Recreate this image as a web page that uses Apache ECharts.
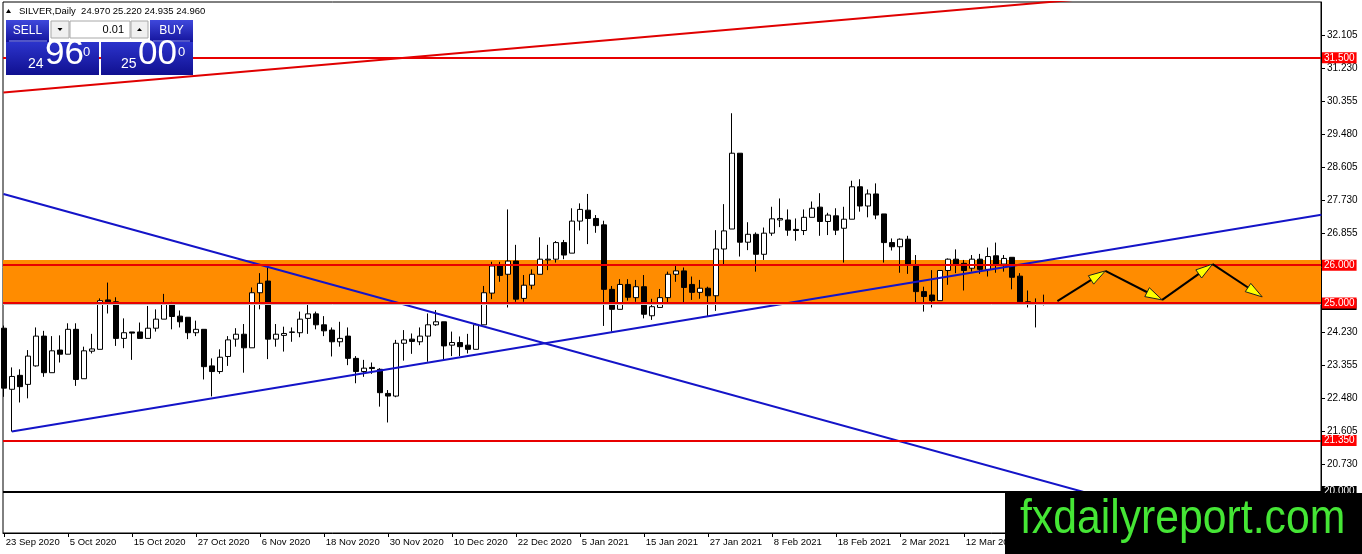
<!DOCTYPE html>
<html><head><meta charset="utf-8">
<script src="https://cdn.jsdelivr.net/npm/echarts@6/dist/echarts.min.js"></script>
<style>html,body{margin:0;padding:0;background:#fff}#c{width:1362px;height:554px}</style>
</head><body><div id="c"></div>
<script>
const dates = [
'23 Sep 2020','24 Sep 2020','25 Sep 2020','28 Sep 2020','29 Sep 2020','30 Sep 2020',
'1 Oct 2020','2 Oct 2020','5 Oct 2020','6 Oct 2020','7 Oct 2020','8 Oct 2020','9 Oct 2020','12 Oct 2020','13 Oct 2020','14 Oct 2020','15 Oct 2020','16 Oct 2020','19 Oct 2020','20 Oct 2020','21 Oct 2020','22 Oct 2020','23 Oct 2020','26 Oct 2020','27 Oct 2020','28 Oct 2020','29 Oct 2020','30 Oct 2020',
'2 Nov 2020','3 Nov 2020','4 Nov 2020','5 Nov 2020','6 Nov 2020','9 Nov 2020','10 Nov 2020','11 Nov 2020','12 Nov 2020','13 Nov 2020','16 Nov 2020','17 Nov 2020','18 Nov 2020','19 Nov 2020','20 Nov 2020','23 Nov 2020','24 Nov 2020','25 Nov 2020','26 Nov 2020','27 Nov 2020','30 Nov 2020',
'1 Dec 2020','2 Dec 2020','3 Dec 2020','4 Dec 2020','7 Dec 2020','8 Dec 2020','9 Dec 2020','10 Dec 2020','11 Dec 2020','14 Dec 2020','15 Dec 2020','16 Dec 2020','17 Dec 2020','18 Dec 2020','21 Dec 2020','22 Dec 2020','23 Dec 2020','24 Dec 2020','28 Dec 2020','29 Dec 2020','30 Dec 2020','31 Dec 2020',
'4 Jan 2021','5 Jan 2021','6 Jan 2021','7 Jan 2021','8 Jan 2021','11 Jan 2021','12 Jan 2021','13 Jan 2021','14 Jan 2021','15 Jan 2021','18 Jan 2021','19 Jan 2021','20 Jan 2021','21 Jan 2021','22 Jan 2021','25 Jan 2021','26 Jan 2021','27 Jan 2021','28 Jan 2021','29 Jan 2021',
'1 Feb 2021','2 Feb 2021','3 Feb 2021','4 Feb 2021','5 Feb 2021','8 Feb 2021','9 Feb 2021','10 Feb 2021','11 Feb 2021','12 Feb 2021','15 Feb 2021','16 Feb 2021','17 Feb 2021','18 Feb 2021','19 Feb 2021','22 Feb 2021','23 Feb 2021','24 Feb 2021','25 Feb 2021','26 Feb 2021',
'1 Mar 2021','2 Mar 2021','3 Mar 2021','4 Mar 2021','5 Mar 2021','8 Mar 2021','9 Mar 2021','10 Mar 2021','11 Mar 2021','12 Mar 2021','15 Mar 2021','16 Mar 2021','17 Mar 2021','18 Mar 2021','19 Mar 2021','22 Mar 2021','23 Mar 2021','24 Mar 2021','25 Mar 2021','26 Mar 2021',
'29 Mar 2021','30 Mar 2021','31 Mar 2021','1 Apr 2021','2 Apr 2021','5 Apr 2021','6 Apr 2021','7 Apr 2021','8 Apr 2021','9 Apr 2021','12 Apr 2021','13 Apr 2021','14 Apr 2021','15 Apr 2021','16 Apr 2021','19 Apr 2021','20 Apr 2021','21 Apr 2021','22 Apr 2021','23 Apr 2021','26 Apr 2021','27 Apr 2021','28 Apr 2021','29 Apr 2021','30 Apr 2021',
'3 May 2021','4 May 2021','5 May 2021','6 May 2021','7 May 2021','10 May 2021','11 May 2021','12 May 2021','13 May 2021'
];
const opens = [
24.33,22.71,23.08,22.84,23.33,24.12,23.15,23.75,23.64,24.30,
22.99,23.72,23.77,25.08,25.03,24.06,24.23,24.23,24.06,24.33,
24.57,24.99,24.65,24.62,24.21,24.30,23.33,23.18,23.58,24.04,
24.17,23.81,25.27,25.58,24.04,24.14,24.23,24.21,24.59,24.71,
24.42,24.28,23.97,24.12,23.53,23.18,23.29,23.24,22.60,22.53,
23.93,24.04,23.97,24.12,24.42,24.50,23.88,23.95,23.88,23.77,
24.42,25.26,25.98,25.76,26.11,25.12,25.47,25.76,26.14,26.16,
26.60,26.32,27.17,27.46,27.24,27.07,25.36,24.83,25.49,25.14,
25.43,24.66,24.88,25.14,25.76,25.85,25.49,25.28,25.39,25.19,
26.43,26.96,28.97,26.61,26.82,26.29,26.85,27.20,27.20,26.95,
26.92,27.27,27.54,27.16,27.31,26.98,27.22,28.08,27.57,27.89,
27.36,26.60,26.49,26.69,25.98,25.30,25.21,25.06,25.86,26.16,
26.05,25.92,26.16,25.89,26.25,26.03,26.21,25.71,25.03,25.00,
24.97];
const highs = [
24.40,23.29,23.24,23.75,24.35,24.26,24.12,24.14,24.46,24.46,
23.84,24.18,25.12,25.54,25.15,24.59,24.23,24.48,24.92,24.83,
25.24,25.03,24.80,24.62,24.53,24.30,23.53,23.77,24.12,24.33,
24.44,25.41,25.79,25.96,24.44,24.37,24.35,24.77,24.97,24.77,
24.65,24.35,24.50,24.35,23.59,23.49,23.42,23.27,22.69,24.02,
24.28,24.19,24.35,24.72,24.81,24.50,24.24,24.11,24.18,24.46,
25.45,26.09,26.09,27.48,26.54,25.74,25.89,26.74,26.54,26.64,
26.67,27.51,27.64,27.89,27.33,27.18,25.45,25.63,25.63,25.61,
25.74,25.11,25.37,25.83,25.99,25.94,25.70,25.61,25.43,26.93,
27.62,30.03,28.97,27.14,26.87,27.00,27.55,27.77,27.48,27.24,
27.48,27.69,27.91,27.39,27.51,27.55,28.24,28.28,28.01,28.17,
27.36,26.71,26.71,26.78,26.27,25.43,25.87,25.87,26.18,26.42,
26.14,26.27,26.30,26.47,26.60,26.27,26.21,25.79,25.33,25.12,
25.22];
const lows = [
22.51,21.59,22.36,22.47,23.31,23.04,23.15,23.42,23.64,22.80,
22.99,23.66,23.77,24.72,23.86,23.80,23.49,24.06,24.06,24.24,
24.57,24.30,24.35,24.04,24.12,22.97,22.52,23.12,23.33,23.84,
23.15,23.81,24.83,23.51,23.84,23.71,23.97,24.09,24.18,24.30,
24.12,23.58,23.84,23.35,22.87,23.04,23.12,22.25,21.83,22.50,
23.47,23.65,23.88,23.44,24.39,23.50,23.59,23.59,23.66,23.77,
24.42,25.10,25.56,24.88,25.03,25.03,25.36,25.76,25.87,26.07,
26.16,26.32,26.92,26.56,26.86,24.39,24.24,24.83,25.06,25.03,
24.59,24.55,24.88,24.95,25.56,24.95,25.08,25.11,24.64,24.79,
26.02,26.96,26.23,26.40,25.83,26.14,26.78,27.01,26.78,26.65,
26.80,27.27,26.78,26.80,26.80,26.07,27.22,27.42,27.27,27.22,
26.07,26.39,25.80,25.77,25.01,24.77,24.88,25.06,25.48,25.79,
25.33,25.83,25.77,25.70,25.80,25.83,25.36,24.95,24.88,24.35,
24.935];
const closes = [
22.74,23.05,22.78,23.59,24.12,23.15,23.73,23.64,24.30,22.97,
23.73,23.78,25.06,25.03,24.06,24.21,24.20,24.06,24.33,24.57,
24.97,24.64,24.50,24.21,24.30,23.31,23.18,23.56,24.02,24.17,
23.81,25.27,25.52,24.04,24.17,24.19,24.22,24.57,24.71,24.42,
24.26,23.97,24.06,23.53,23.18,23.27,23.26,22.62,22.53,23.93,
24.02,23.98,24.12,24.42,24.50,23.86,23.95,23.84,23.77,24.42,
25.27,25.98,25.73,26.11,25.10,25.47,25.76,26.16,26.16,26.60,
26.27,27.17,27.48,27.24,27.05,25.36,24.83,25.49,25.15,25.43,
24.70,24.90,25.14,25.76,25.85,25.41,25.28,25.39,25.19,26.43,
26.91,28.97,26.61,26.82,26.29,26.85,27.23,27.24,26.93,26.92,
27.27,27.51,27.16,27.33,26.93,27.22,28.08,27.57,27.89,27.33,
26.60,26.49,26.69,26.03,25.30,25.17,25.06,25.86,26.16,26.03,
25.86,26.16,25.89,26.23,26.03,26.18,25.68,25.03,25.01,24.97,
24.96];

const yTickValues = [20.730,21.605,22.480,23.355,24.230,26.855,27.730,28.605,29.480,30.355,31.230,32.105];
const xTickIndex = [0,8,16,24,32,40,48,56,64,72,80,88,96,104,112,120,128,136,144,152,160];
const redLevels = [31.5, 26.0, 25.0, 21.35];
const blackLevel = 20.0;
const bidPrice = 24.96;
const zone = [24.97, 26.14];
const redTrendX = [-0.04, 135], redTrendY = [30.58, 33.059];
const blueDownX = [-0.04, 165], blueDownY = [27.889, 18.23];
const blueUpX = [1, 164.7], blueUpY = [21.59, 27.336];
const arrowX = [131.7, 137.7, 144.8, 151.1, 157.3];
const arrowY = [25.05, 25.85, 25.08, 26.03, 25.16];

const candleData = closes.map((c, i) => [i, opens[i], c, lows[i], highs[i]]);
const arrowSegs = arrowX.slice(0, -1).map((x, i) => [x, arrowY[i], arrowX[i+1], arrowY[i+1]]);
const FONT = '"Liberation Sans", Arial, sans-serif';

const chart = echarts.init(document.getElementById('c'));
const blueGrad = {type:'linear',x:0,y:0,x2:0,y2:1,colorStops:[{offset:0,color:'#3f48dc'},{offset:1,color:'#14149c'}]};
const panelGrad = {type:'linear',x:0,y:0,x2:0,y2:1,colorStops:[{offset:0,color:'#2c34cc'},{offset:1,color:'#101090'}]};

function lvlLabel(bg){
  return {show:true, position:'end', distance:1, formatter:p=>Number(p.value).toFixed(3),
    color:'#fff', backgroundColor:bg, padding:[1,2,0,2], fontSize:10, fontFamily:FONT, align:'left'};
}

chart.setOption({
  animation:false,
  backgroundColor:'#fff',
  grid:{left:3, right:41, top:2, bottom:21, show:true, borderColor:'#000', borderWidth:1, backgroundColor:'#fff'},
  xAxis:{type:'value', min:-0.1, max:164.65, splitLine:{show:false},
    axisLine:{show:true, onZero:false, lineStyle:{color:'#000', width:1}},
    axisTick:{show:true, length:4, customValues:xTickIndex, lineStyle:{color:'#000'}},
    axisLabel:{customValues:xTickIndex, formatter:v=>dates[Math.round(v)]||'', align:'left', margin:4, padding:[0,0,0,2],
      color:'#000', fontSize:9.5, fontFamily:FONT}},
  yAxis:{type:'value', position:'right', min:18.899, max:32.98, scale:true, splitLine:{show:false},
    axisLine:{show:true, onZero:false, lineStyle:{color:'#000', width:1}},
    axisTick:{show:true, length:4, customValues:yTickValues, lineStyle:{color:'#000'}},
    axisLabel:{customValues:yTickValues, formatter:v=>v.toFixed(3), margin:6, color:'#000', fontSize:10, fontFamily:FONT}},
  series:[
    {type:'line', data:[], z:1, silent:true,
      markArea:{silent:true, itemStyle:{color:'#ff8c00', opacity:1}, data:[[{yAxis:zone[0]},{yAxis:zone[1]}]]}},
    {type:'candlestick', data:candleData, encode:{x:0, y:[1,2,3,4]}, z:2, barWidth:5, silent:true,
      itemStyle:{color:'#fff', color0:'#000', borderColor:'#000', borderColor0:'#000', borderWidth:1}},
    {type:'line', data:redTrendX.map((x,i)=>[x,redTrendY[i]]), symbol:'none', z:3, silent:true, clip:true,
      lineStyle:{color:'#e00000', width:2}},
    {type:'line', data:blueDownX.map((x,i)=>[x,blueDownY[i]]), symbol:'none', z:3, silent:true, clip:true,
      lineStyle:{color:'#1414c8', width:2}},
    {type:'line', data:blueUpX.map((x,i)=>[x,blueUpY[i]]), symbol:'none', z:3, silent:true, clip:true,
      lineStyle:{color:'#1414c8', width:2}},
    {type:'line', data:[], z:4, silent:true,
      markLine:{silent:true, symbol:'none', animation:false,
        data:[
          {yAxis:bidPrice, lineStyle:{color:'#c0c0c0', width:1, type:'solid'}, label:lvlLabel('#000')},
          ...redLevels.map(v=>({yAxis:v, lineStyle:{color:'#e80000', width:2, type:'solid'}, label:lvlLabel('#ff0000')})),
          {yAxis:blackLevel, lineStyle:{color:'#000', width:2, type:'solid'}, label:lvlLabel('#000')}
        ]}},
    {type:'custom', data:arrowSegs, encode:{x:[0,2], y:[1,3]}, z:5, silent:true,
      renderItem:(params, api)=>{
        const p1 = api.coord([api.value(0), api.value(1)]);
        const p2 = api.coord([api.value(2), api.value(3)]);
        const dx = p2[0]-p1[0], dy = p2[1]-p1[1], len = Math.hypot(dx,dy);
        const ux = dx/len, uy = dy/len, hl = 17, hw = 5;
        const bx = p2[0]-ux*hl, by = p2[1]-uy*hl;
        return {type:'group', children:[
          {type:'line', shape:{x1:p1[0],y1:p1[1],x2:bx+ux*4,y2:by+uy*4}, style:{stroke:'#000', lineWidth:2}},
          {type:'polygon', shape:{points:[p2,[bx-uy*hw,by+ux*hw],[bx+uy*hw,by-ux*hw]]}, style:{fill:'#ffff00', stroke:'#202020', lineWidth:1}}
        ]};
      }}
  ],
  graphic:{elements:[
    {type:'polygon', shape:{points:[[6,13],[11,13],[8.5,9]]}, style:{fill:'#000'}, z:100},
    {type:'text', x:19, y:11, z:100, style:{text:'SILVER,Daily  24.970 25.220 24.935 24.960', fill:'#000',
      font:'9.5px '+FONT, verticalAlign:'middle', textVerticalAlign:'middle'}},
    {type:'rect', shape:{x:6,y:20,width:43,height:22}, style:{fill:blueGrad}, z:100},
    {type:'line', shape:{x1:9,y1:41,x2:47,y2:41}, style:{stroke:'#8e96f0', lineWidth:1}, z:101},
    {type:'text', x:27.5, y:31, z:101, style:{text:'SELL', fill:'#fff', font:'12px '+FONT, align:'center', textAlign:'center', verticalAlign:'middle', textVerticalAlign:'middle'}},
    {type:'rect', shape:{x:51,y:21,width:18,height:17}, style:{fill:'#f0f0f0', stroke:'#a8a8a8', lineWidth:1}, z:100},
    {type:'polygon', shape:{points:[[57.5,28],[62.5,28],[60,31]]}, style:{fill:'#000'}, z:101},
    {type:'rect', shape:{x:70,y:21,width:60,height:17}, style:{fill:'#fff', stroke:'#a8a8a8', lineWidth:1}, z:100},
    {type:'text', x:124, y:30, z:101, style:{text:'0.01', fill:'#000', font:'11px '+FONT, align:'right', textAlign:'right', verticalAlign:'middle', textVerticalAlign:'middle'}},
    {type:'rect', shape:{x:131,y:21,width:17,height:17}, style:{fill:'#f0f0f0', stroke:'#a8a8a8', lineWidth:1}, z:100},
    {type:'polygon', shape:{points:[[137,31],[142,31],[139.5,28]]}, style:{fill:'#000'}, z:101},
    {type:'rect', shape:{x:150,y:20,width:43,height:22}, style:{fill:blueGrad}, z:100},
    {type:'line', shape:{x1:153,y1:41,x2:190,y2:41}, style:{stroke:'#8e96f0', lineWidth:1}, z:101},
    {type:'text', x:171.5, y:31, z:101, style:{text:'BUY', fill:'#fff', font:'12px '+FONT, align:'center', textAlign:'center', verticalAlign:'middle', textVerticalAlign:'middle'}},
    {type:'rect', shape:{x:6,y:42,width:93,height:33}, style:{fill:panelGrad}, z:100},
    {type:'rect', shape:{x:101,y:42,width:92,height:33}, style:{fill:panelGrad}, z:100},
    {type:'text', x:28, y:71, z:101, style:{text:'24', fill:'#fff', font:'14px '+FONT, verticalAlign:'bottom', textVerticalAlign:'bottom'}},
    {type:'text', x:45, y:72, z:101, style:{text:'96', fill:'#fff', font:'35px '+FONT, verticalAlign:'bottom', textVerticalAlign:'bottom'}},
    {type:'text', x:83, y:59, z:101, style:{text:'0', fill:'#fff', font:'13px '+FONT, verticalAlign:'bottom', textVerticalAlign:'bottom'}},
    {type:'text', x:121, y:71, z:101, style:{text:'25', fill:'#fff', font:'14px '+FONT, verticalAlign:'bottom', textVerticalAlign:'bottom'}},
    {type:'text', x:138, y:72, z:101, style:{text:'00', fill:'#fff', font:'35px '+FONT, verticalAlign:'bottom', textVerticalAlign:'bottom'}},
    {type:'text', x:178, y:59, z:101, style:{text:'0', fill:'#fff', font:'13px '+FONT, verticalAlign:'bottom', textVerticalAlign:'bottom'}},
    {type:'rect', shape:{x:1005,y:493,width:357,height:61}, style:{fill:'#000'}, z:200},
    {type:'text', x:1020, y:520, scaleX:0.89, originX:0, originY:0, z:201, style:{text:'fxdailyreport.com', fill:'#45e635',
      font:'48px '+FONT, verticalAlign:'middle', textVerticalAlign:'middle'}}
  ]}
});
</script></body></html>
